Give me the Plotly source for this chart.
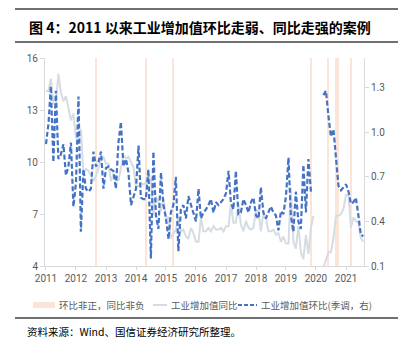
import pandas as pd
import plotly.graph_objects as go

# ---- data ----
months = pd.date_range("2011-01-01", periods=128, freq="MS")

yoy = [
    14.1, 14.1, 14.8, 13.4, 13.3, 15.1, 14.0, 13.5, 13.8, 13.2, 12.4, 12.8,   # 2011
    11.4, 11.4, 11.9, 9.3, 9.6, 9.5, 9.2, 8.9, 9.2, 9.6, 10.1, 10.3,          # 2012
    9.9, 9.9, 8.9, 9.3, 9.2, 8.9, 9.7, 10.4, 10.2, 10.3, 10.0, 9.7,           # 2013
    8.6, 8.6, 8.8, 8.7, 8.8, 9.2, 9.0, 6.9, 8.0, 7.7, 7.2, 7.9,               # 2014
    6.8, 6.8, 5.6, 5.9, 6.1, 6.8, 6.0, 6.1, 5.7, 5.6, 6.2, 5.9,               # 2015
    5.4, 5.4, 6.8, 6.0, 6.0, 6.2, 6.0, 6.3, 6.1, 6.1, 6.2, 6.0,               # 2016
    6.3, 6.3, 7.6, 6.5, 6.5, 7.6, 6.4, 6.0, 6.6, 6.2, 6.1, 6.2,               # 2017
    7.2, 7.2, 6.0, 7.0, 6.8, 6.0, 6.0, 6.1, 5.8, 5.9, 5.4, 5.7,               # 2018
    5.3, 5.3, 8.5, 5.4, 5.0, 6.3, 4.8, 4.4, 5.8, 4.7, 6.2, 6.9,               # 2019
    None, None, None, 3.9, 4.4, 4.8, 4.8, 5.6, 6.9, 6.9, 7.0, 7.3,            # 2020
    8.1, 8.1, 6.2, 6.8, 6.6, 6.5, 5.6, 5.4,                                   # 2021
]

mom = [
    0.92, 1.06, 1.31, 0.80, 1.28, 0.82, 0.85, 0.92, 0.71, 0.77, 0.93, 0.50,   # 2011
    0.66, 1.24, 0.33, 0.75, 0.62, 0.60, 0.62, 0.87, 0.77, 0.80, 0.87, 0.62,   # 2012
    0.76, 0.77, 0.75, 0.74, 0.62, 0.93, 1.07, 0.77, 0.82, 0.73, 0.51, 0.57,   # 2013
    0.62, 0.91, 0.56, 0.55, 0.55, 0.75, 0.15, 0.87, 0.44, 0.35, 0.73, 0.51,   # 2014
    0.42, 0.28, 0.46, 0.51, 0.70, 0.20, 0.48, 0.51, 0.42, 0.57, 0.51, 0.46,   # 2015
    0.40, 0.62, 0.42, 0.46, 0.48, 0.51, 0.55, 0.46, 0.53, 0.51, 0.53, 0.55,   # 2016
    0.59, 0.74, 0.53, 0.48, 0.74, 0.45, 0.46, 0.55, 0.51, 0.46, 0.53, 0.56,   # 2017
    0.44, 0.42, 0.63, 0.46, 0.42, 0.46, 0.50, 0.46, 0.44, 0.34, 0.47, 0.45,   # 2018
    0.57, 0.83, 0.44, 0.33, 0.60, 0.40, 0.35, 0.78, 0.46, 0.82, 0.60, None,   # 2019
    None, None, None, 1.25, 1.28, 1.11, 0.97, 1.02, 0.84, 0.64, 0.61, 0.63,   # 2020
    0.65, 0.60, 0.52, 0.53, 0.56, 0.44, 0.31, 0.30,                           # 2021
]

band_months = ["2012-09-01", "2014-05-01", "2015-04-01", "2019-11-01",
               "2020-06-01", "2020-09-01", "2020-10-01", "2021-03-01"]
band_height = [16] * len(band_months)

left_ticks = [4, 7, 10, 13, 16]
right_ticks = [0.1, 0.4, 0.7, 1.0, 1.3]

title_text = "图 4：2011 以来工业增加值环比走弱、同比走强的案例"
source_text = "资料来源：Wind、国信证券经济研究所整理。"
names = ["环比非正，同比非负", "工业增加值同比", "工业增加值环比(季调，右)"]

# ---- styling ----
BAND_COLOR = "#FCE4D6"
YOY_COLOR = "#D6DCE4"
MOM_COLOR = "#4472C4"
MOM_DASH = "5px,2.5px"

W, H = 407, 350
L, R, T, B = 45, 43, 58, 84
pw, ph = W - L - R, H - T - B

def px_x(x):
    return (x - L) / pw

def px_y(y):
    return (H - B - y) / ph

tick_font = dict(family="Roboto, Lato, sans-serif", size=10, color="#595959")
cjk = "Noto Sans CJK SC, sans-serif"

fig = go.Figure()
fig.add_trace(go.Bar(
    x=pd.to_datetime(band_months), y=band_height, name=names[0],
    marker=dict(color=BAND_COLOR, line=dict(width=0)),
    width=20 * 86400000, yaxis="y",
))
fig.add_trace(go.Scatter(
    x=months, y=yoy, name=names[1], mode="lines",
    line=dict(color=YOY_COLOR, width=2), connectgaps=False, yaxis="y",
))
fig.add_trace(go.Scatter(
    x=months, y=mom, name=names[2], mode="lines",
    line=dict(color=MOM_COLOR, width=2.2, dash=MOM_DASH),
    connectgaps=False, yaxis="y2",
))

fig.update_layout(
    width=W, height=H,
    margin=dict(l=L, r=R, t=T, b=B, pad=0),
    paper_bgcolor="white", plot_bgcolor="white",
    showlegend=False,
    bargap=0,
    xaxis=dict(
        type="date",
        range=["2010-12-20", "2021-08-08"],
        tick0="2011-01-01", dtick="M12", tickformat="%Y",
        showline=True, linecolor="#D9D9D9", linewidth=1,
        ticks="outside", ticklen=3, tickcolor="#D9D9D9",
        showgrid=False, zeroline=False,
        tickfont=tick_font,
    ),
    yaxis=dict(
        range=[4, 16], tickvals=left_ticks,
        showline=True, linecolor="#D9D9D9", linewidth=1,
        ticks="outside", ticklen=4, tickcolor="#D9D9D9",
        showgrid=False, zeroline=False,
        tickfont=tick_font,
    ),
    yaxis2=dict(
        range=[0.1, 1.5], tickvals=right_ticks, tickformat=".1f",
        overlaying="y", side="right",
        showline=True, linecolor="#D9D9D9", linewidth=1,
        ticks="outside", ticklen=4, tickcolor="#D9D9D9",
        showgrid=False, zeroline=False,
        tickfont=tick_font,
    ),
)

# title and source
fig.add_annotation(
    text=title_text, xref="paper", yref="paper",
    x=px_x(27), y=px_y(27), xanchor="left", yanchor="middle",
    showarrow=False,
    font=dict(family=cjk, size=14, color="#000000", weight="bold"),
)
fig.add_annotation(
    text=source_text, xref="paper", yref="paper",
    x=px_x(25), y=px_y(331), xanchor="left", yanchor="middle",
    showarrow=False,
    font=dict(family=cjk, size=10.5, color="#000000"),
)

for yy in (9, 42, 318):
    fig.add_shape(
        type="line", xref="paper", yref="paper",
        x0=px_x(15), x1=px_x(398), y0=px_y(yy), y1=px_y(yy),
        line=dict(color="#404040", width=1.5),
    )

# legend (drawn row)
LEG_Y = 305
leg_font = dict(family=cjk, size=9.5, color="#595959")
fig.add_shape(type="rect", xref="paper", yref="paper",
              x0=px_x(33), x1=px_x(55), y0=px_y(LEG_Y + 3), y1=px_y(LEG_Y - 3),
              line=dict(width=0), fillcolor=BAND_COLOR)
fig.add_shape(type="line", xref="paper", yref="paper",
              x0=px_x(153), x1=px_x(167), y0=px_y(LEG_Y), y1=px_y(LEG_Y),
              line=dict(color=YOY_COLOR, width=2))
fig.add_shape(type="line", xref="paper", yref="paper",
              x0=px_x(238), x1=px_x(257), y0=px_y(LEG_Y), y1=px_y(LEG_Y),
              line=dict(color=MOM_COLOR, width=2, dash="4px,2px"))
for xx, name in zip((57, 169, 259), names):
    fig.add_annotation(
        text=name, xref="paper", yref="paper",
        x=px_x(xx), y=px_y(LEG_Y), xanchor="left", yanchor="middle",
        showarrow=False, font=leg_font,
    )

fig.write_html("out.html")
